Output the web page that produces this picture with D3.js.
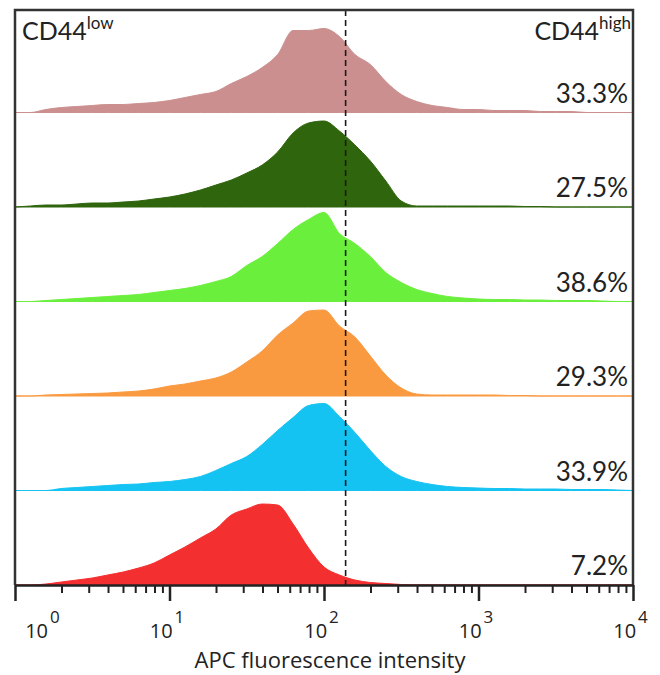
<!DOCTYPE html>
<html>
<head>
<meta charset="utf-8">
<script src="https://cdn.jsdelivr.net/npm/d3@7"></script>
<style>
  body { margin: 0; background: #fff; }
</style>
</head>
<body>
<div id="chart"></div>
<script>
// 直方图的横坐标 (log10 荧光强度)
var logSteps = [0.0, 0.1, 0.2, 0.3, 0.4, 0.5, 0.6, 0.7, 0.8, 0.9,
                1.0, 1.1, 1.2, 1.3, 1.4, 1.5, 1.6, 1.7, 1.8, 1.9,
                2.0, 2.1, 2.2, 2.3, 2.4, 2.5, 2.6, 2.7, 2.8, 2.9,
                3.0, 3.1, 3.2, 3.3, 3.4, 3.5, 3.6, 3.7, 3.8, 3.9, 4.0];

// 每一行的计数 (从上到下)
var pinkCounts = [0, 0, 3, 5, 6, 7, 8, 8, 9, 10,
                  12, 15, 18, 21, 29, 36, 45, 58, 82, 82,
                  84, 76, 58, 48, 31, 18, 11, 7, 5, 3,
                  3, 2, 2, 2, 1, 1, 1, 0, 0, 0, 0];
var darkGreenCounts = [0, 1, 2, 2, 3, 4, 4, 5, 6, 8,
                       10, 13, 17, 22, 27, 34, 42, 55, 74, 84,
                       86, 76, 62, 46, 26, 6, 1, 1, 1, 1,
                       1, 1, 1, 0.5, 0.5, 0, 0, 0, 0, 0, 0];
var lightGreenCounts = [0, 0, 1, 2, 3, 4, 5, 6, 7, 9,
                        11, 13, 16, 20, 25, 36, 45, 58, 72, 82,
                        89, 68, 58, 45, 29, 19, 12, 8, 5, 3.5,
                        2.5, 2, 2, 1.5, 1.5, 1, 1, 1, 0.5, 0, 0];
var orangeCounts = [0, 0, 1, 1.5, 2, 2.5, 3, 4, 5, 7,
                    10, 12, 15, 18, 24, 34, 45, 61, 73, 85,
                    86, 70, 59, 40, 21, 8, 2, 1, 1, 1,
                    1, 1, 0.5, 0.5, 0, 0, 0, 0, 0, 0, 0];
var blueCounts = [0, 0, 0, 2, 3, 4, 5, 6, 6.5, 8,
                  9, 11, 14, 20, 27, 34, 46, 60, 73, 85,
                  87, 74, 58, 40, 24, 14, 9, 6, 4, 3,
                  2.5, 2, 2, 1.5, 1.5, 1.5, 1, 1, 1, 0.5, 0];
var redCounts = [0, 0, 1, 3, 5, 7, 10, 13, 17, 22,
                 30, 38, 47, 56, 70, 76, 81, 80, 61, 37,
                 18, 10, 5, 2.5, 1.5, 0.5, 0, 0, 0, 0,
                 0, 0, 0, 0, 0, 0, 0, 0, 0, 0, 0];

var rowNames = ["pink", "darkGreen", "lightGreen", "orange", "blue", "red"];
var rowColors = ["#cc8f8f", "#2f650d", "#6af03c", "#fa9a40", "#15c3f2", "#f42f2f"];
var percentLabels = ["33.3%", "27.5%", "38.6%", "29.3%", "33.9%", "7.2%"];

// 坐标轴刻度
var majorTicks = [1, 10, 100, 1000, 10000];
var exponentLabels = ["0", "1", "2", "3", "4"];
var minorTicks = [2, 3, 4, 5, 6, 7, 8, 9,
                  20, 30, 40, 50, 60, 70, 80, 90,
                  200, 300, 400, 500, 600, 700, 800, 900,
                  2000, 3000, 4000, 5000, 6000, 7000, 8000, 9000];
var gateValue = 138;  // 虚线门控位置

var allCounts = [pinkCounts, darkGreenCounts, lightGreenCounts, orangeCounts, blueCounts, redCounts];

var width = 660, height = 675;
var plotLeft = 15, plotRight = 633, plotTop = 10, plotBottom = 585;

var svg = d3.select("#chart").append("svg")
    .attr("width", width)
    .attr("height", height);

// 比例尺
var x = d3.scaleLog().domain([1, 10000]).range([plotLeft, plotRight]);
var row = d3.scaleBand().domain(rowNames).range([18, plotBottom]).padding(0);
var countY = d3.scaleLinear().domain([0, 100]).range([0, 100]);

// 绘制每一行的直方图
rowNames.forEach(function (name, i) {
    var base = row(name) + row.bandwidth();
    var data = logSteps.map(function (s, j) {
        return { value: Math.pow(10, s), count: allCounts[i][j] };
    });
    var area = d3.area()
        .x(d => x(d.value))
        .y0(base)
        .y1(d => base - countY(d.count))
        .curve(d3.curveMonotoneX);

    svg.append("path")
        .datum(data)
        .attr("fill", rowColors[i])
        .attr("stroke", rowColors[i])
        .attr("stroke-width", 1)
        .attr("d", area);

    svg.append("text")
        .attr("x", 628)
        .attr("y", base - 10)
        .attr("text-anchor", "end")
        .style("font-family", "Lato, 'Open Sans', sans-serif")
        .style("font-size", "26px")
        .attr("fill", "#222")
        .text(percentLabels[i]);
});

// 门控虚线
svg.append("line")
    .attr("x1", x(gateValue)).attr("x2", x(gateValue))
    .attr("y1", plotTop).attr("y2", plotBottom)
    .attr("stroke", "#1a1a1a")
    .attr("stroke-width", 1.6)
    .attr("stroke-dasharray", "6,4");

// 边框 (左, 上, 右)
svg.append("path")
    .attr("d", "M" + plotLeft + "," + plotBottom + "V" + plotTop + "H" + plotRight + "V" + plotBottom)
    .attr("fill", "none")
    .attr("stroke", "#333")
    .attr("stroke-width", 2.5);

// 次刻度
svg.append("g")
    .attr("transform", "translate(0," + plotBottom + ")")
    .call(d3.axisBottom(x).tickValues(minorTicks).tickSize(8).tickSizeOuter(0).tickFormat(""))
    .call(g => g.select(".domain").remove())
    .call(g => g.selectAll(".tick line").attr("stroke", "#222").attr("stroke-width", 2));

// 主刻度 + 标签
var xAxisG = svg.append("g")
    .attr("transform", "translate(0," + plotBottom + ")")
    .call(d3.axisBottom(x).tickValues(majorTicks).tickSize(16).tickSizeOuter(0).tickFormat(() => "10"));

xAxisG.select(".domain").attr("stroke", "#222").attr("stroke-width", 2.5);
xAxisG.selectAll(".tick line").attr("stroke", "#222").attr("stroke-width", 2.5);
xAxisG.selectAll(".tick text")
    .attr("y", 53)
    .attr("dy", null)
    .attr("x", (d, i) => i === 0 ? 27 : -3)
    .attr("fill", "#222")
    .style("font-family", "'Open Sans', sans-serif")
    .style("font-size", "20px")
    .each(function (d, i) {
        d3.select(this).append("tspan")
            .attr("dx", 2)
            .attr("dy", -15)
            .style("font-size", "17px")
            .text(exponentLabels[i]);
    });

// x 轴标题
svg.append("text")
    .attr("x", 330)
    .attr("y", 668)
    .attr("text-anchor", "middle")
    .style("font-family", "'Open Sans', sans-serif")
    .style("font-size", "22px")
    .attr("fill", "#222")
    .text("APC fluorescence intensity");

// CD44 标注
var lowLabel = svg.append("text")
    .attr("x", 22)
    .attr("y", 40)
    .style("font-family", "Lato, 'Open Sans', sans-serif")
    .style("font-size", "25px")
    .attr("fill", "#222")
    .text("CD44");
lowLabel.append("tspan")
    .attr("dy", -11)
    .style("font-size", "17px")
    .text("low");

var highLabel = svg.append("text")
    .attr("x", 631)
    .attr("y", 40)
    .attr("text-anchor", "end")
    .style("font-family", "Lato, 'Open Sans', sans-serif")
    .style("font-size", "25px")
    .attr("fill", "#222")
    .text("CD44");
highLabel.append("tspan")
    .attr("dy", -11)
    .style("font-size", "17px")
    .text("high");
</script>
</body>
</html>
